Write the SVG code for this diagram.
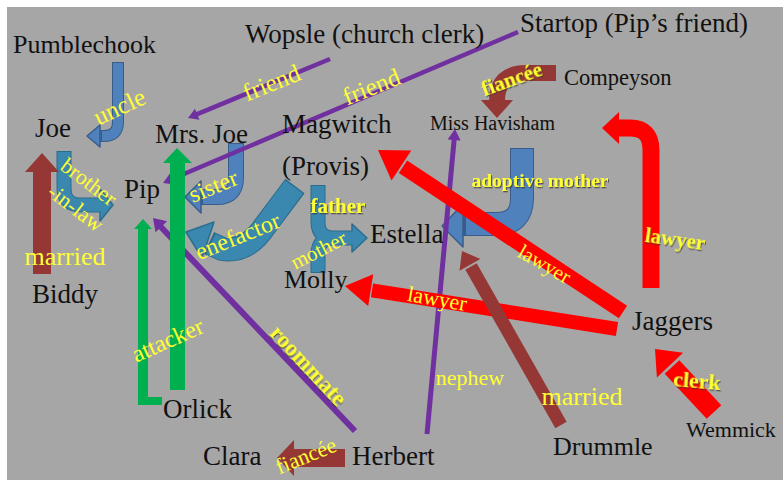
<svg xmlns="http://www.w3.org/2000/svg" width="783" height="481" viewBox="0 0 783 481">
<defs>
<style>
.n{font-family:"Liberation Serif","Times New Roman",serif;fill:#111}
.l{font-family:"Liberation Serif","Times New Roman",serif;fill:#ffff33;text-anchor:middle}
.b{font-weight:bold;filter:url(#sh)}
.ob{fill:none;stroke:#385d8a}
.fb{fill:none;stroke:#4f81bd}
.hb{fill:#4f81bd;stroke:#385d8a;stroke-width:1.5;stroke-linejoin:round}
.ot{fill:none;stroke:#2c6d8d}
.ft{fill:none;stroke:#3a88b0}
.ht{fill:#3a88b0;stroke:#2c6d8d;stroke-width:1.5;stroke-linejoin:round}
.rf{fill:#ff0000}
.rl{stroke:#ff0000;fill:none}
.bf{fill:#953735}
.bl{stroke:#953735;fill:none}
.pl{stroke:#7030a0;fill:none}
.pf{fill:#7030a0}
.gf{fill:#00b050}
</style>
<filter id="sh" x="-10%" y="-30%" width="130%" height="170%">
<feDropShadow dx="1" dy="1.3" stdDeviation="0.6" flood-color="#333" flood-opacity="0.75"/>
</filter>
</defs>
<rect x="0" y="0" width="783" height="481" fill="#ffffff"/>
<rect x="7" y="7" width="776" height="473" fill="#a6a6a6"/>

<g id="connectors">
  <!-- Pumblechook -> Joe (uncle) -->
  <path class="ob" stroke-width="12" d="M118,62 V122 Q118,136 104,136 H99"/>
  <polygon class="hb" points="100,125 100,147 87,136"/>
  <path class="fb" stroke-width="10" d="M118,63 V122 Q118,136 104,136 H102"/>
  <!-- Joe -> Pip (brother-in-law) -->
  <path class="ot" stroke-width="15" d="M64,151 V188 Q64,205 81,205 H100"/>
  <polygon class="ht" points="100,189 100,221 113,205"/>
  <path class="ft" stroke-width="13" d="M64,152 V188 Q64,205 81,205 H102"/>
  <!-- Mrs Joe -> Pip (sister) -->
  <path class="ob" stroke-width="16" d="M236,143 V178 Q236,197 217,197 H201"/>
  <polygon class="hb" points="201,181 201,213 185,197"/>
  <path class="fb" stroke-width="14" d="M236,144 V178 Q236,197 217,197 H203"/>
  <!-- Magwitch -> Pip (benefactor) -->
  <path class="ot" stroke-width="24" d="M295,186 L265,226 Q247,253 222,249 L209,243"/>
  <polygon class="ht" points="214,222 202,258 186,232"/>
  <path class="ft" stroke-width="22" d="M294,187 L265,226 Q247,253 222,249 L211,244"/>
  <!-- Magwitch / Molly -> Estella (father, mother) -->
  <path class="ot" stroke-width="15" d="M318,185 V222 Q318,238 334,238 H352 M318,273 V254 Q318,238 334,238"/>
  <polygon class="ht" points="352,224 352,252 367,238"/>
  <path class="ft" stroke-width="13" d="M318,186 V222 Q318,238 334,238 H354 M318,272 V254 Q318,238 334,238"/>
  <!-- Miss Havisham -> Estella (adoptive mother) -->
  <path class="ob" stroke-width="24" d="M522,148 V198 Q522,224 496,224 H463"/>
  <polygon class="hb" points="463,204 463,247 442,226"/>
  <path class="fb" stroke-width="22" d="M522,149 V198 Q522,224 496,224 H466"/>
  <!-- Compeyson -> Miss Havisham (fiancee) -->
  <path class="bl" stroke-width="16" d="M556,73 H526 Q497,73 497,101"/>
  <polygon class="bf" points="481,100 513,100 497,118"/>

  <!-- purple -->
  <line class="pl" stroke-width="4.5" x1="330" y1="59" x2="196" y2="114.6"/>
  <polygon class="pf" points="194.9,108.7 188,118 199.5,119.7"/>
  <line class="pl" stroke-width="4.5" x1="518" y1="32" x2="171" y2="179.5"/>
  <polygon class="pf" points="169.9,173.6 163,183 174.5,184.6"/>
  <line class="pl" stroke-width="6" x1="355" y1="431" x2="160" y2="226"/>
  <polygon class="pf" points="167.1,221.2 153,218 155.5,232.2"/>
  <line class="pl" stroke-width="5" x1="427" y1="434" x2="454.2" y2="139"/>
  <polygon class="pf" points="460.6,140.5 455,129 447.6,139.4"/>

  <!-- red -->
  <path class="rl" stroke-width="17" d="M651,288 V150 Q651,128 630,128 H618"/>
  <polygon class="rf" points="619,112 619,144 602,128"/>
  <line class="rl" stroke-width="15" x1="623" y1="312" x2="403" y2="166.8"/>
  <polygon class="rf" points="411.3,150.5 378,150 391.5,180.5"/>
  <line class="rl" stroke-width="14" x1="617" y1="329" x2="372" y2="290.3"/>
  <polygon class="rf" points="373.2,274.3 345,286 368.2,305.9"/>
  <line class="rl" stroke-width="20" x1="714" y1="412" x2="672" y2="367"/>
  <polygon class="rf" points="683.1,352.8 655,349 656.9,377.4"/>

  <!-- brown -->
  <line class="bl" stroke-width="13" x1="561" y1="425" x2="471" y2="266.5"/>
  <polygon class="bf" points="480.3,259 462,251 459.5,270.8"/>
  <polygon class="bf" points="33,274 51,274 51,172 59,172 42,153 25,172 33,172"/>
  <polygon class="bf" points="345,449 345,467 294,467 294,476 277,458 294,440 294,449"/>

  <!-- green -->
  <polygon class="gf" points="170,390 185,390 185,163 192,163 177,148 163,163 170,163"/>
  <polygon class="gf" points="162,397 162,405 138,405 138,229 134,229 143,219 152,229 148,229 148,397"/>

  <!-- labels -->
  <text class="l" font-size="25" transform="translate(120,108) rotate(-25)" y="7">uncle</text>
  <text class="l" font-size="25" transform="translate(272,84) rotate(-22)" y="7">friend</text>
  <text class="l" font-size="25" transform="translate(372,88) rotate(-22)" y="7">friend</text>
  <text class="l b" font-size="21" transform="translate(512,80) rotate(-20)" y="6">fiancée</text>
  <text class="l" font-size="22" transform="translate(88,183) rotate(37)" y="6">brother</text>
  <text class="l" font-size="22" transform="translate(75,209) rotate(37)" y="6">-in-law</text>
  <text class="l" font-size="24" transform="translate(214,188) rotate(-22)" y="6">sister</text>
  <text class="l" font-size="24" transform="translate(238,237) rotate(-22)" y="7">enefactor</text>
  <text class="l b" font-size="21" x="338" y="213">father</text>
  <text class="l" font-size="21" transform="translate(319,251) rotate(-27)" y="6">mother</text>
  <text class="l b" font-size="19.5" x="540" y="187">adoptive mother</text>
  <text class="l b" font-size="21" transform="translate(675,240) rotate(8)" y="6">lawyer</text>
  <text class="l" font-size="21" transform="translate(544,265) rotate(30)" y="6">lawyer</text>
  <text class="l" font-size="22" transform="translate(437,300) rotate(10)" y="6">lawyer</text>
  <text class="l" font-size="26" x="65" y="265">married</text>
  <text class="l" font-size="24" transform="translate(168,341) rotate(-24)" y="7">attacker</text>
  <text class="l b" font-size="23" transform="translate(308,366) rotate(47)" y="7">roommate</text>
  <text class="l" font-size="22" x="470" y="385">nephew</text>
  <text class="l" font-size="26" x="582" y="405">married</text>
  <text class="l b" font-size="22" transform="translate(697,381) rotate(5)" y="7">clerk</text>
  <text class="l" font-size="22" transform="translate(306,456) rotate(-22)" y="7">fiancée</text>
</g>

<g id="pumblechook"><text class="n" font-size="26" x="13" y="53">Pumblechook</text></g>
<g id="wopsle"><text class="n" font-size="27" x="245" y="43">Wopsle (church clerk)</text></g>
<g id="startop"><text class="n" font-size="27" x="520" y="32">Startop (Pip’s friend)</text></g>
<g id="compeyson"><text class="n" font-size="22.5" x="564" y="85">Compeyson</text></g>
<g id="havisham"><text class="n" font-size="20" x="430" y="130">Miss Havisham</text></g>
<g id="joe"><text class="n" font-size="27" x="35" y="137">Joe</text></g>
<g id="mrsjoe"><text class="n" font-size="27" x="155" y="143">Mrs. Joe</text></g>
<g id="magwitch"><text class="n" font-size="27" x="282" y="133">Magwitch<tspan x="282" y="175">(Provis)</tspan></text></g>
<g id="pip"><text class="n" font-size="27" x="124" y="198">Pip</text></g>
<g id="estella"><text class="n" font-size="27" x="370" y="243">Estella</text></g>
<g id="molly"><text class="n" font-size="26" x="284" y="288">Molly</text></g>
<g id="biddy"><text class="n" font-size="27" x="32" y="303">Biddy</text></g>
<g id="jaggers"><text class="n" font-size="27" x="632" y="330">Jaggers</text></g>
<g id="orlick"><text class="n" font-size="27" x="163" y="418">Orlick</text></g>
<g id="clara"><text class="n" font-size="27" x="203" y="465">Clara</text></g>
<g id="herbert"><text class="n" font-size="27" x="352" y="465">Herbert</text></g>
<g id="drummle"><text class="n" font-size="26" x="553" y="455">Drummle</text></g>
<g id="wemmick"><text class="n" font-size="22" x="686" y="437">Wemmick</text></g>
</svg>
